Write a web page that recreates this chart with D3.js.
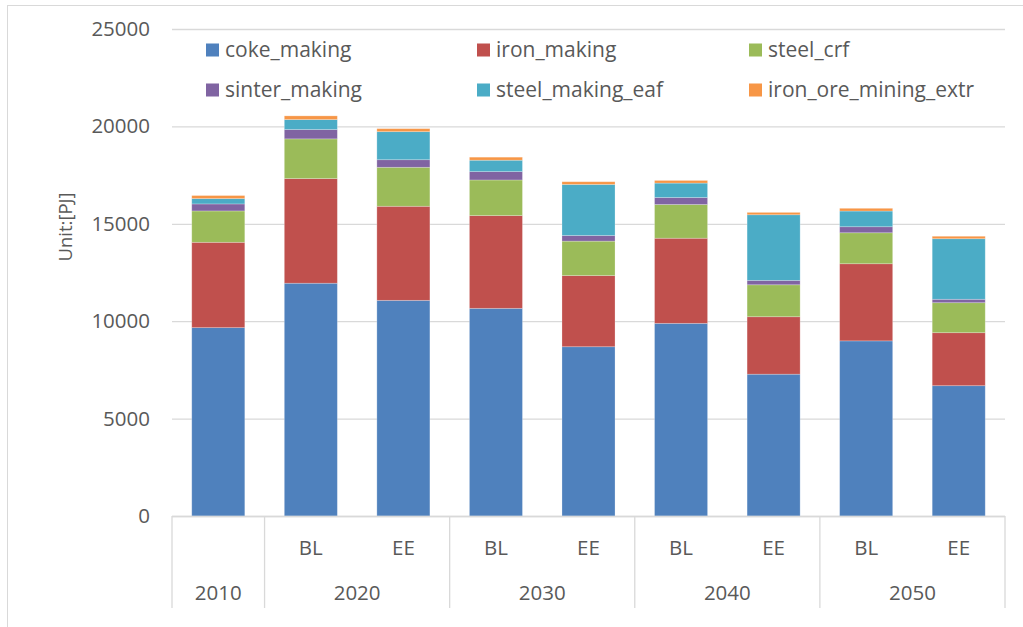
<!DOCTYPE html>
<html>
<head>
<meta charset="utf-8">
<script src="https://cdn.jsdelivr.net/npm/d3@7"></script>
<style>
  html, body { margin: 0; padding: 0; background: #fff; }
  svg { display: block; font-family: "Open Sans", sans-serif; }
</style>
</head>
<body>
<svg id="chart" width="1023" height="627"></svg>
<script>
// ---- data ----
const categories = ["2010", "2020 BL", "2020 EE", "2030 BL", "2030 EE", "2040 BL", "2040 EE", "2050 BL", "2050 EE"];
const subLabels = ["", "BL", "EE", "BL", "EE", "BL", "EE", "BL", "EE"];
const groupLabels = ["2010", "2020", "2030", "2040", "2050"];
const groupSizes = [1, 2, 2, 2, 2];
const seriesNames = ["coke_making", "iron_making", "steel_crf", "sinter_making", "steel_making_eaf", "iron_ore_mining_extr"];
const coke_making = [9670, 11950, 11070, 10660, 8690, 9890, 7280, 8990, 6690];
const iron_making = [4380, 5370, 4830, 4760, 3650, 4370, 2950, 3960, 2720];
const steel_crf = [1610, 2040, 2000, 1830, 1770, 1730, 1640, 1590, 1540];
const sinter_making = [360, 480, 390, 430, 290, 360, 225, 310, 175];
const steel_making_eaf = [275, 510, 1440, 585, 2620, 740, 3370, 805, 3110];
const iron_ore_mining_extr = [155, 190, 155, 155, 140, 135, 120, 140, 125];
const yTicks = [0, 5000, 10000, 15000, 20000, 25000];
const colors = ["#4F81BD", "#C0504D", "#9BBB59", "#8064A2", "#4BACC6", "#F79646"];

const seriesValues = [coke_making, iron_making, steel_crf, sinter_making, steel_making_eaf, iron_ore_mining_extr];
const table = categories.map((c, i) => {
  const row = { cat: c };
  seriesNames.forEach((s, j) => row[s] = seriesValues[j][i]);
  return row;
});

// ---- layout ----
const svg = d3.select("#chart");
const plotL = 172, plotR = 1005, plotT = 29, plotB = 516;
const textColor = "#595959";
const gridColor = "#d9d9d9";

// outer border
svg.append("rect").attr("x", 7.5).attr("y", 5.5).attr("width", 1040).attr("height", 650)
  .attr("fill", "none").attr("stroke", gridColor).attr("stroke-width", 1);

const x = d3.scaleBand().domain(categories).range([plotL, plotR]).paddingInner(0.427).paddingOuter(0.2135);
const y = d3.scaleLinear().domain([0, 25000]).range([plotB, plotT]);

// gridlines
const yAxis = d3.axisLeft(y).tickValues(yTicks).tickSize(-(plotR - plotL)).tickPadding(22).tickFormat(d3.format("d"));
const gy = svg.append("g").attr("transform", `translate(${plotL},0)`).call(yAxis);
gy.select(".domain").remove();
gy.selectAll(".tick line").attr("stroke", gridColor).attr("stroke-width", 1.3);
gy.selectAll(".tick text").attr("fill", textColor).attr("font-size", "20.5px")
  .attr("font-family", "Open Sans, sans-serif");

// y label
svg.append("text").attr("transform", "translate(72,227) rotate(-90)")
  .attr("text-anchor", "middle").attr("fill", textColor).attr("font-size", "18.5px")
  .text("Unit:[PJ]");

// stacked bars
const stack = d3.stack().keys(seriesNames);
const stacked = stack(table);
svg.append("g").selectAll("g").data(stacked).join("g")
  .attr("fill", (d, i) => colors[i])
  .selectAll("rect").data(d => d).join("rect")
  .attr("x", d => x(d.data.cat))
  .attr("width", x.bandwidth())
  .attr("y", d => y(d[1]))
  .attr("height", d => y(d[0]) - y(d[1]))
  .attr("stroke", "#ffffff").attr("stroke-opacity", 0.3).attr("stroke-width", 0.8);

// bottom axis line
svg.append("line").attr("x1", plotL).attr("x2", plotR).attr("y1", plotB + 0.5).attr("y2", plotB + 0.5)
  .attr("stroke", gridColor).attr("stroke-width", 1.3);

// group separators and labels
const step = x.step();
let idx = 0;
const sepX = [plotL];
groupLabels.forEach((g, gi) => {
  const start = plotL + idx * step;
  const end = start + groupSizes[gi] * step;
  sepX.push(end);
  svg.append("text").attr("x", (start + end) / 2).attr("y", 593).attr("dy", "0.35em")
    .attr("text-anchor", "middle").attr("fill", textColor).attr("font-size", "20.5px").text(g);
  idx += groupSizes[gi];
});
svg.append("g").selectAll("line").data(sepX).join("line")
  .attr("x1", d => d).attr("x2", d => d).attr("y1", plotB).attr("y2", 608)
  .attr("stroke", gridColor).attr("stroke-width", 1.3);

// sub labels
svg.append("g").selectAll("text").data(categories).join("text")
  .attr("x", d => x(d) + x.bandwidth() / 2).attr("y", 548).attr("dy", "0.35em")
  .attr("text-anchor", "middle").attr("fill", textColor).attr("font-size", "20.5px")
  .text((d, i) => subLabels[i]);

// legend
const legX = [206, 477, 749];
const legY = [50, 90];
const leg = svg.append("g").selectAll("g").data(seriesNames).join("g")
  .attr("transform", (d, i) => `translate(${legX[i % 3]},${legY[Math.floor(i / 3)]})`);
leg.append("rect").attr("x", 0).attr("y", -6.5).attr("width", 13).attr("height", 13)
  .attr("fill", (d, i) => colors[i]);
leg.append("text").attr("x", 19).attr("y", 0).attr("dy", "0.35em")
  .attr("fill", textColor).attr("font-size", "21px").text(d => d);
</script>
</body>
</html>
